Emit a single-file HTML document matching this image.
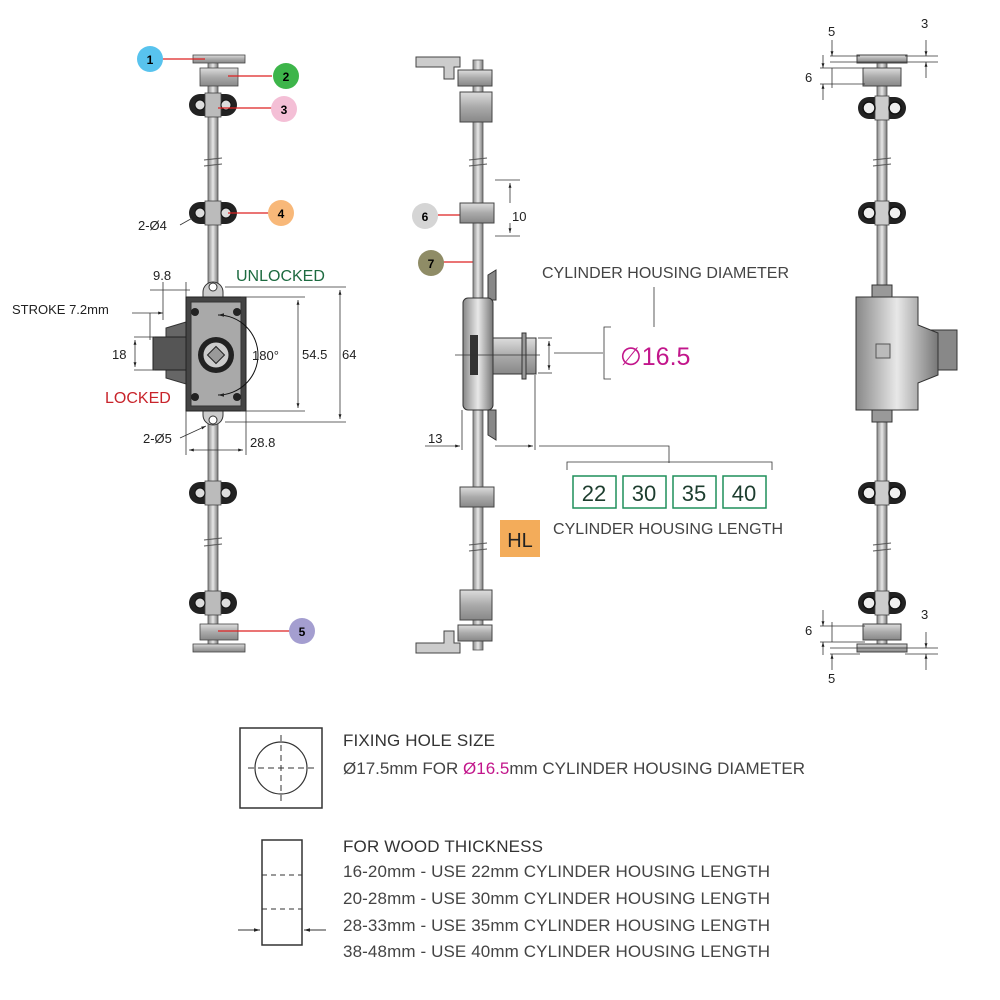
<!DOCTYPE html>
<html><head><meta charset="utf-8"><style>
body{margin:0;background:#fff}
svg{display:block}
text{font-family:"Liberation Sans",sans-serif}
</style></head><body>
<svg width="1000" height="1000" viewBox="0 0 1000 1000" xmlns="http://www.w3.org/2000/svg">
<defs>
<linearGradient id="rod" x1="0" x2="1"><stop offset="0" stop-color="#888"/><stop offset=".5" stop-color="#e8e8e8"/><stop offset="1" stop-color="#777"/></linearGradient>
<linearGradient id="met" x1="0" x2="0" y1="0" y2="1"><stop offset="0" stop-color="#ddd"/><stop offset=".5" stop-color="#aaa"/><stop offset="1" stop-color="#888"/></linearGradient>
<g id="clip"><rect x="-24" y="-11" width="48" height="22" rx="11" fill="#222"/><rect x="-8" y="-12" width="16" height="24" fill="#bbb" stroke="#444" stroke-width="0.8"/><circle cx="-13" cy="0" r="5" fill="#ddd" stroke="#111"/><circle cx="13" cy="0" r="5" fill="#ddd" stroke="#111"/></g>
<g id="clipw"><rect x="-24" y="-11" width="48" height="22" rx="11" fill="#222"/><rect x="-7" y="-12" width="14" height="24" fill="#ccc" stroke="#444" stroke-width="0.8"/><circle cx="-13" cy="0" r="6" fill="#eee" stroke="#111" stroke-width="1.5"/><circle cx="13" cy="0" r="6" fill="#eee" stroke="#111" stroke-width="1.5"/></g>
<marker id="ar" viewBox="0 0 10 10" refX="10" refY="5" markerWidth="6" markerHeight="6" orient="auto-start-reverse"><path d="M0,2 L10,5 L0,8z" fill="#222"/></marker>
</defs>

<!-- LEFT VIEW -->
<rect x="208" y="60" width="10" height="590" fill="url(#rod)" stroke="#555" stroke-width="0.8"/>
<rect x="193" y="55" width="52" height="8" fill="url(#met)" stroke="#444" stroke-width="0.8"/>
<rect x="200" y="68" width="38" height="18" fill="url(#met)" stroke="#444" stroke-width="0.8"/>
<use href="#clip" x="213" y="105"/>
<use href="#clip" x="213" y="213"/>
<use href="#clip" x="213" y="493"/>
<use href="#clip" x="213" y="603"/>
<rect x="200" y="624" width="38" height="16" fill="url(#met)" stroke="#444" stroke-width="0.8"/>
<rect x="193" y="644" width="52" height="8" fill="url(#met)" stroke="#444" stroke-width="0.8"/>
<path d="M204 160l18 -2M204 166l18 -2M204 540l18 -2M204 546l18 -2" stroke="#555" fill="none"/>
<path d="M203 292a10 10 0 0 1 20 0v5h-20z" fill="#ccc" stroke="#333"/>
<circle cx="213" cy="287" r="4" fill="#fff" stroke="#333"/>
<path d="M203 410v5a10 10 0 0 0 20 0v-5z" fill="#ccc" stroke="#333"/>
<circle cx="213" cy="420" r="4" fill="#fff" stroke="#333"/>
<path d="M186 322l-20 6v50l20 6z" fill="#666" stroke="#333"/>
<rect x="153" y="337" width="36" height="33" fill="#555" stroke="#222"/>
<rect x="186" y="297" width="60" height="114" fill="#444" stroke="#222"/>
<rect x="191" y="302" width="50" height="104" fill="#a9a9a9" stroke="#333"/>
<circle cx="195" cy="312" r="4" fill="#222"/><circle cx="237" cy="312" r="4" fill="#222"/>
<circle cx="195" cy="397" r="4" fill="#222"/><circle cx="237" cy="397" r="4" fill="#222"/>
<circle cx="216" cy="355" r="18" fill="#222"/><circle cx="216" cy="355" r="13" fill="#ccc" stroke="#222"/>
<rect x="210" y="349" width="12" height="12" fill="#999" stroke="#222" transform="rotate(45 216 355)"/>
<path d="M218 315a40 40 0 0 1 0 80" fill="none" stroke="#111" marker-start="url(#ar)" marker-end="url(#ar)"/>
<text x="252" y="360" font-size="13" fill="#222">180°</text>
<g stroke="#333" stroke-width="0.8" fill="none">
<line x1="150" y1="290" x2="190" y2="290"/><line x1="186" y1="282" x2="186" y2="297"/><line x1="163" y1="282" x2="163" y2="320"/>
<line x1="132" y1="313" x2="163" y2="313" marker-end="url(#ar)"/><line x1="150" y1="313" x2="150" y2="340"/>
<line x1="134" y1="337" x2="155" y2="337"/><line x1="134" y1="370" x2="155" y2="370"/>
<line x1="135" y1="340" x2="135" y2="367" marker-start="url(#ar)" marker-end="url(#ar)"/>
<line x1="241" y1="297" x2="305" y2="297"/><line x1="241" y1="411" x2="305" y2="411"/>
<line x1="298" y1="300" x2="298" y2="408" marker-start="url(#ar)" marker-end="url(#ar)"/>
<line x1="225" y1="287" x2="346" y2="287"/><line x1="225" y1="422" x2="346" y2="422"/>
<line x1="340" y1="290" x2="340" y2="419" marker-start="url(#ar)" marker-end="url(#ar)"/>
<line x1="186" y1="411" x2="186" y2="455"/><line x1="246" y1="411" x2="246" y2="455"/>
<line x1="189" y1="450" x2="243" y2="450" marker-start="url(#ar)" marker-end="url(#ar)"/>
<line x1="180" y1="225" x2="196" y2="216" marker-end="url(#ar)"/>
<line x1="180" y1="438" x2="206" y2="426" marker-end="url(#ar)"/>
</g>
<text x="153" y="280" font-size="13" fill="#222">9.8</text>
<text x="12" y="314" font-size="13" fill="#222">STROKE 7.2mm</text>
<text x="112" y="359" font-size="13" fill="#222">18</text>
<text x="302" y="359" font-size="13" fill="#222">54.5</text>
<text x="342" y="359" font-size="13" fill="#222">64</text>
<text x="250" y="447" font-size="13" fill="#222">28.8</text>
<text x="138" y="230" font-size="13" fill="#222">2-Ø4</text>
<text x="143" y="443" font-size="13" fill="#222">2-Ø5</text>
<text x="236" y="281" font-size="16" fill="#1d6b40">UNLOCKED</text>
<text x="105" y="403" font-size="16" fill="#c8242b">LOCKED</text>
<g stroke="#d22" stroke-width="1.2"><line x1="162" y1="59" x2="205" y2="59"/><line x1="228" y1="76" x2="272" y2="76"/><line x1="218" y1="108" x2="272" y2="108"/><line x1="228" y1="213" x2="268" y2="213"/><line x1="218" y1="631" x2="290" y2="631"/><line x1="438" y1="215" x2="470" y2="215"/><line x1="443" y1="262" x2="480" y2="262"/></g>
<circle cx="150" cy="59" r="13" fill="#58c3ee"/><text x="150" y="64" font-size="12" font-weight="bold" text-anchor="middle">1</text>
<circle cx="286" cy="76" r="13" fill="#3db54a"/><text x="286" y="81" font-size="12" font-weight="bold" text-anchor="middle">2</text>
<circle cx="284" cy="109" r="13" fill="#f4bfd6"/><text x="284" y="114" font-size="12" font-weight="bold" text-anchor="middle">3</text>
<circle cx="281" cy="213" r="13" fill="#f8b879"/><text x="281" y="218" font-size="12" font-weight="bold" text-anchor="middle">4</text>
<circle cx="302" cy="631" r="13" fill="#a49ed0"/><text x="302" y="636" font-size="12" font-weight="bold" text-anchor="middle">5</text>
<circle cx="425" cy="216" r="13" fill="#d5d5d5"/><text x="425" y="221" font-size="12" font-weight="bold" text-anchor="middle">6</text>
<circle cx="431" cy="263" r="13" fill="#8f8c66"/><text x="431" y="268" font-size="12" font-weight="bold" text-anchor="middle">7</text>

<!-- CENTER VIEW -->
<rect x="473" y="60" width="10" height="590" fill="url(#rod)" stroke="#555" stroke-width="0.8"/>
<path d="M416 57h44v10h-6v12h-10v-12h-28z" fill="#ccc" stroke="#444"/>
<rect x="458" y="70" width="34" height="16" fill="url(#met)" stroke="#444"/>
<rect x="460" y="92" width="32" height="30" fill="url(#met)" stroke="#444"/>
<rect x="460" y="203" width="34" height="20" fill="url(#met)" stroke="#444"/>
<rect x="460" y="487" width="34" height="20" fill="url(#met)" stroke="#444"/>
<rect x="460" y="590" width="32" height="30" fill="url(#met)" stroke="#444"/>
<rect x="458" y="625" width="34" height="16" fill="url(#met)" stroke="#444"/>
<path d="M416 653h44v-10h-6v-12h-10v12h-28z" fill="#ccc" stroke="#444"/>
<path d="M469 160l18 -2M469 166l18 -2M469 545l18 -2M469 551l18 -2" stroke="#555"/>
<path d="M488 275l8 -5v30h-8zM488 435l8 5v-30h-8z" fill="#888" stroke="#333"/>
<rect x="463" y="298" width="30" height="112" rx="5" fill="url(#rod)" stroke="#333"/>
<rect x="470" y="335" width="8" height="40" fill="#333"/>
<rect x="493" y="338" width="30" height="36" fill="url(#met)" stroke="#333"/>
<rect x="522" y="333" width="4" height="46" fill="#999" stroke="#333"/>
<rect x="526" y="338" width="10" height="36" fill="url(#met)" stroke="#333"/>
<g stroke="#333" stroke-width="0.8" fill="none">
<line x1="455" y1="355" x2="540" y2="355"/>
<line x1="538" y1="338" x2="552" y2="338"/><line x1="538" y1="373" x2="552" y2="373"/>
<line x1="549" y1="341" x2="549" y2="370" marker-start="url(#ar)" marker-end="url(#ar)"/>
<line x1="554" y1="353" x2="603" y2="353"/>
<path d="M611 327h-7v52h7"/>
<line x1="654" y1="287" x2="654" y2="327"/>
<line x1="462" y1="410" x2="462" y2="450"/><line x1="535" y1="375" x2="535" y2="450"/>
<line x1="425" y1="446" x2="460" y2="446" marker-end="url(#ar)"/>
<line x1="495" y1="446" x2="533" y2="446" marker-end="url(#ar)"/>
<path d="M539 446h130v17"/>
<path d="M567 470v-8h205v8"/>
<line x1="495" y1="180" x2="520" y2="180"/><line x1="495" y1="236" x2="520" y2="236"/>
<line x1="510" y1="183" x2="510" y2="203" marker-start="url(#ar)"/><line x1="510" y1="223" x2="510" y2="233" marker-end="url(#ar)"/>
</g>
<text x="512" y="221" font-size="13" fill="#222">10</text>
<text x="428" y="443" font-size="13" fill="#222">13</text>
<text x="542" y="278" font-size="16" fill="#444" textLength="247">CYLINDER HOUSING DIAMETER</text>
<text x="620" y="365" font-size="25" fill="#c2168b">∅16.5</text>
<g fill="none" stroke="#1f8f5a" stroke-width="1.5"><rect x="573" y="476" width="43" height="32"/><rect x="623" y="476" width="43" height="32"/><rect x="673" y="476" width="43" height="32"/><rect x="723" y="476" width="43" height="32"/></g>
<g font-size="22" fill="#1d3d2e" text-anchor="middle"><text x="594" y="501">22</text><text x="644" y="501">30</text><text x="694" y="501">35</text><text x="744" y="501">40</text></g>
<text x="553" y="534" font-size="16" fill="#444" textLength="230">CYLINDER HOUSING LENGTH</text>
<rect x="500" y="520" width="40" height="37" fill="#f3ac5a"/>
<text x="520" y="547" font-size="20" fill="#222" text-anchor="middle">HL</text>

<!-- RIGHT VIEW -->
<rect x="877" y="60" width="10" height="590" fill="url(#rod)" stroke="#555" stroke-width="0.8"/>
<rect x="857" y="55" width="50" height="8" fill="url(#met)" stroke="#444"/>
<rect x="863" y="68" width="38" height="18" fill="url(#met)" stroke="#444"/>
<use href="#clipw" x="882" y="108"/>
<use href="#clipw" x="882" y="213"/>
<use href="#clipw" x="882" y="493"/>
<use href="#clipw" x="882" y="603"/>
<rect x="863" y="624" width="38" height="16" fill="url(#met)" stroke="#444"/>
<rect x="857" y="644" width="50" height="8" fill="url(#met)" stroke="#444"/>
<path d="M873 160l18 -2M873 166l18 -2M873 545l18 -2M873 551l18 -2" stroke="#555"/>
<path d="M872 285h20v12h-20zM872 410h20v12h-20z" fill="#999" stroke="#333"/>
<rect x="917" y="330" width="40" height="40" fill="#888" stroke="#333"/>
<path d="M856 297h62v28l20 8v42l-20 8v27h-62z" fill="url(#rod)" stroke="#333"/>
<rect x="876" y="344" width="14" height="14" fill="#bbb" stroke="#555"/>
<g stroke="#333" stroke-width="0.8" fill="none">
<line x1="830" y1="56" x2="860" y2="56"/><line x1="830" y1="62" x2="938" y2="62"/><line x1="820" y1="68" x2="865" y2="68"/><line x1="820" y1="84" x2="865" y2="84"/>
<line x1="905" y1="56" x2="938" y2="56"/>
<line x1="832" y1="40" x2="832" y2="56" marker-end="url(#ar)"/><line x1="832" y1="88" x2="832" y2="68"/>
<line x1="823" y1="55" x2="823" y2="68" marker-end="url(#ar)"/><line x1="823" y1="100" x2="823" y2="84" marker-end="url(#ar)"/>
<line x1="926" y1="40" x2="926" y2="56" marker-end="url(#ar)"/><line x1="926" y1="78" x2="926" y2="62" marker-end="url(#ar)"/>
<line x1="830" y1="654" x2="860" y2="654"/><line x1="830" y1="648" x2="938" y2="648"/><line x1="820" y1="642" x2="865" y2="642"/><line x1="820" y1="626" x2="865" y2="626"/>
<line x1="905" y1="654" x2="938" y2="654"/>
<line x1="832" y1="670" x2="832" y2="654" marker-end="url(#ar)"/><line x1="832" y1="622" x2="832" y2="642"/>
<line x1="823" y1="610" x2="823" y2="626" marker-end="url(#ar)"/><line x1="823" y1="655" x2="823" y2="642" marker-end="url(#ar)"/>
<line x1="926" y1="632" x2="926" y2="648" marker-end="url(#ar)"/><line x1="926" y1="670" x2="926" y2="654" marker-end="url(#ar)"/>
</g>
<text x="828" y="36" font-size="13" fill="#222">5</text>
<text x="921" y="28" font-size="13" fill="#222">3</text>
<text x="805" y="82" font-size="13" fill="#222">6</text>
<text x="805" y="635" font-size="13" fill="#222">6</text>
<text x="921" y="619" font-size="13" fill="#222">3</text>
<text x="828" y="683" font-size="13" fill="#222">5</text>

<!-- BOTTOM -->
<rect x="240" y="728" width="82" height="80" fill="none" stroke="#333" stroke-width="1.5"/>
<circle cx="281" cy="768" r="26" fill="none" stroke="#333" stroke-width="1.2"/>
<g stroke="#333" stroke-dasharray="6 4"><line x1="248" y1="768" x2="314" y2="768"/><line x1="281" y1="735" x2="281" y2="801"/></g>
<text x="343" y="746" font-size="17" fill="#333" textLength="152">FIXING HOLE SIZE</text>
<text x="343" y="774" font-size="17" fill="#444" textLength="462">Ø17.5mm FOR <tspan fill="#c2168b">Ø16.5</tspan>mm CYLINDER HOUSING DIAMETER</text>
<rect x="262" y="840" width="40" height="105" fill="none" stroke="#333" stroke-width="1.5"/>
<g stroke="#333" stroke-dasharray="5 4"><line x1="262" y1="875" x2="302" y2="875"/><line x1="262" y1="909" x2="302" y2="909"/></g>
<line x1="238" y1="930" x2="260" y2="930" stroke="#333" marker-end="url(#ar)"/>
<line x1="326" y1="930" x2="304" y2="930" stroke="#333" marker-end="url(#ar)"/>
<text x="343" y="852" font-size="17" fill="#333" textLength="200">FOR WOOD THICKNESS</text>
<g font-size="17" fill="#444">
<text x="343" y="877" textLength="427">16-20mm - USE 22mm CYLINDER HOUSING LENGTH</text>
<text x="343" y="904" textLength="427">20-28mm - USE 30mm CYLINDER HOUSING LENGTH</text>
<text x="343" y="931" textLength="427">28-33mm - USE 35mm CYLINDER HOUSING LENGTH</text>
<text x="343" y="957" textLength="427">38-48mm - USE 40mm CYLINDER HOUSING LENGTH</text>
</g>
</svg>
</body></html>
